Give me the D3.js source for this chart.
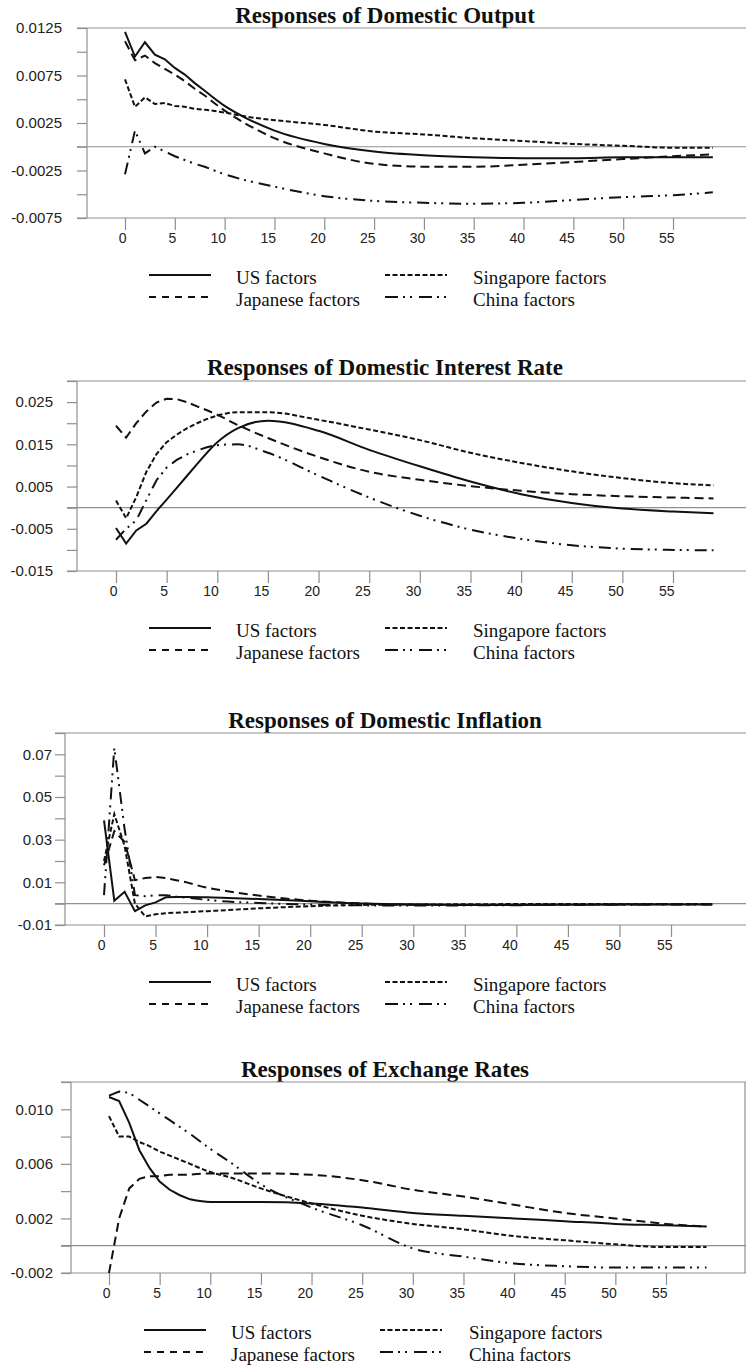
<!DOCTYPE html>
<html>
<head>
<meta charset="utf-8">
<script src="https://cdn.jsdelivr.net/npm/d3@7"></script>
<style>
  body { margin: 0; background: #fff; }
  svg { display: block; }
  .title { font: bold 23px "Liberation Serif", "Times New Roman", serif; fill: #111; }
  .legend__text { font: 19px "Liberation Serif", "Times New Roman", serif; fill: #111; }
  .y-axis text { font: 15px "Liberation Sans", Arial, sans-serif; fill: #222; }
  .x-axis text { font: 14px "Liberation Sans", Arial, sans-serif; fill: #222; }
  .frame { stroke: #8f8f8f; stroke-width: 1.2; fill: none; }
  .series { fill: none; stroke: #111; stroke-width: 2; }
</style>
</head>
<body>
<script>
const periods = [0, 1, 2, 3, 4, 5, 6, 7, 8, 10, 12, 15, 20, 25, 30, 35, 40, 45, 50, 55, 59];

const seriesNames = ["US factors", "Japanese factors", "Singapore factors", "China factors"];
const titles = [
  "Responses of Domestic Output",
  "Responses of Domestic Interest Rate",
  "Responses of Domestic Inflation",
  "Responses of Exchange Rates"
];
const xTicks = [0, 5, 10, 15, 20, 25, 30, 35, 40, 45, 50, 55];

// domestic output
const outputUS = [0.0121, 0.0095, 0.0110, 0.0097, 0.0092, 0.0083, 0.0076, 0.0067, 0.0059, 0.0043, 0.0031, 0.0017, 0.0003, -0.0005, -0.0009, -0.0011, -0.0012, -0.0012, -0.0011, -0.0011, -0.0011];
const outputJP = [0.0111, 0.0091, 0.0096, 0.0088, 0.0082, 0.0076, 0.0069, 0.0061, 0.0054, 0.0038, 0.0025, 0.0009, -0.0007, -0.0018, -0.0021, -0.0021, -0.0019, -0.0016, -0.0013, -0.0010, -0.0008];
const outputSG = [0.0071, 0.0042, 0.0052, 0.0045, 0.0046, 0.0043, 0.0042, 0.0040, 0.0039, 0.0036, 0.0032, 0.0028, 0.0023, 0.0016, 0.0013, 0.0009, 0.0006, 0.0003, 0.0001, -0.0001, -0.0001];
const outputCN = [-0.0029, 0.0017, -0.0007, 0.0000, -0.0005, -0.0010, -0.0014, -0.0018, -0.0021, -0.0029, -0.0035, -0.0042, -0.0052, -0.0057, -0.0059, -0.0060, -0.0059, -0.0056, -0.0053, -0.0051, -0.0048];
const outputTicks = [-0.0075, -0.005, -0.0025, 0, 0.0025, 0.005, 0.0075, 0.01, 0.0125];
const outputLabels = ["0.0125", "0.0075", "0.0025", "-0.0025", "-0.0075"];

// domestic interest rate
const rateUS = [-0.0048, -0.0085, -0.0054, -0.0038, -0.0008, 0.0019, 0.0047, 0.0075, 0.0103, 0.0155, 0.0188, 0.0206, 0.0182, 0.0137, 0.0098, 0.0062, 0.0032, 0.0011, -0.0002, -0.0009, -0.0013];
const rateJP = [0.0194, 0.0166, 0.0200, 0.0228, 0.0249, 0.0258, 0.0257, 0.0250, 0.0240, 0.0220, 0.0196, 0.0165, 0.0120, 0.0085, 0.0066, 0.0051, 0.0040, 0.0032, 0.0027, 0.0024, 0.0022];
const rateSG = [0.0017, -0.0025, 0.0025, 0.0085, 0.0127, 0.0155, 0.0173, 0.0188, 0.0200, 0.0218, 0.0226, 0.0226, 0.0208, 0.0185, 0.0160, 0.0130, 0.0106, 0.0086, 0.0070, 0.0058, 0.0053];
const rateCN = [-0.0076, -0.0050, -0.0030, 0.0018, 0.0065, 0.0095, 0.0113, 0.0126, 0.0135, 0.0148, 0.0150, 0.0130, 0.0076, 0.0024, -0.0019, -0.0052, -0.0074, -0.0089, -0.0097, -0.0100, -0.0101];
const rateTicks = [-0.015, -0.01, -0.005, 0, 0.005, 0.01, 0.015, 0.02, 0.025, 0.03];
const rateLabels = ["0.025", "0.015", "0.005", "-0.005", "-0.015"];

// domestic inflation
const inflUS = [0.039, 0.0014, 0.0056, -0.0035, -0.0008, 0.0006, 0.0030, 0.0031, 0.0031, 0.0030, 0.0027, 0.0022, 0.0011, 0.0001, -0.0004, -0.0006, -0.0006, -0.0005, -0.0004, -0.0004, -0.0004];
const inflJP = [0.018, 0.034, 0.029, 0.011, 0.012, 0.0125, 0.012, 0.011, 0.010, 0.0075, 0.0058, 0.0038, 0.0014, 0.0001, -0.0005, -0.0006, -0.0006, -0.0005, -0.0004, -0.0003, -0.0003];
const inflSG = [0.020, 0.042, 0.027, 0.000, -0.0060, -0.0050, -0.0045, -0.0042, -0.0040, -0.0035, -0.0030, -0.0022, -0.0012, -0.0006, -0.0004, -0.0003, -0.0002, -0.0002, -0.0001, -0.0001, -0.0001];
const inflCN = [0.004, 0.073, 0.035, 0.004, 0.0035, 0.0040, 0.0040, 0.0033, 0.0028, 0.0018, 0.0010, 0.0003, -0.0004, -0.0008, -0.0009, -0.0008, -0.0007, -0.0006, -0.0005, -0.0004, -0.0004];
const inflTicks = [-0.01, 0, 0.01, 0.02, 0.03, 0.04, 0.05, 0.06, 0.07, 0.08];
const inflLabels = ["0.07", "0.05", "0.03", "0.01", "-0.01"];

// exchange rates
const fxUS = [0.0109, 0.0106, 0.0090, 0.0070, 0.0057, 0.0047, 0.0041, 0.0037, 0.0034, 0.0032, 0.0032, 0.0032, 0.0031, 0.0028, 0.0024, 0.0022, 0.0020, 0.0018, 0.0016, 0.0015, 0.0014];
const fxJP = [-0.0020, 0.0020, 0.0042, 0.0049, 0.0051, 0.0051, 0.0052, 0.0052, 0.0052, 0.0053, 0.0053, 0.0053, 0.0052, 0.0048, 0.0041, 0.0036, 0.0030, 0.0024, 0.0020, 0.0016, 0.0014];
const fxSG = [0.0095, 0.0080, 0.0080, 0.0076, 0.0073, 0.0069, 0.0066, 0.0063, 0.0060, 0.0054, 0.0050, 0.0042, 0.0031, 0.0022, 0.0016, 0.0012, 0.0007, 0.0004, 0.0001, -0.0001, -0.0001];
const fxCN = [0.0110, 0.0113, 0.0112, 0.0107, 0.0102, 0.0097, 0.0092, 0.0087, 0.0082, 0.0071, 0.0061, 0.0045, 0.0028, 0.0015, -0.0002, -0.0008, -0.0013, -0.0015, -0.0016, -0.0016, -0.0016];
const fxTicks = [-0.002, 0, 0.002, 0.004, 0.006, 0.008, 0.01, 0.012];
const fxLabels = ["0.010", "0.006", "0.002", "-0.002"];

// line styles: US solid, Japan long dash, Singapore short dash, China dash-dot-dot
const plotDash = [null, "9,5", "5,2.5", "12,5,2,5,2,6"];
const legendDash = [null, "7,6", "5,2.5", "13,5,2,5,2,7"];

// where each panel sits on the page
const layout = [
  { top: 28, bottom: 218, axisX: 87, x0: 125, x55: 673, titleY: 23, yPad: 15, legendX: [149, 236, 385, 473], box: false },
  { top: 381, bottom: 571, axisX: 77, x0: 116, x55: 673, titleY: 375, yPad: 14, legendX: [149, 236, 385, 473], box: false },
  { top: 733, bottom: 925, axisX: 65, x0: 104, x55: 671, titleY: 728, yPad: 3, legendX: [149, 236, 385, 473], box: false },
  { top: 1082, bottom: 1273, axisX: 71, x0: 109, x55: 666, titleY: 1077, yPad: 8, legendX: [144, 231, 380, 469], box: true }
];

const panels = [
  { series: [outputUS, outputJP, outputSG, outputCN], ticks: outputTicks, labels: outputLabels },
  { series: [rateUS, rateJP, rateSG, rateCN], ticks: rateTicks, labels: rateLabels },
  { series: [inflUS, inflJP, inflSG, inflCN], ticks: inflTicks, labels: inflLabels },
  { series: [fxUS, fxJP, fxSG, fxCN], ticks: fxTicks, labels: fxLabels }
];

const W = 746, H = 1366;
// first periods are joined by straight segments (as in the source), later ones smoothly
const splitAt = periods.indexOf(8);

const svg = d3.select("body")
  .append("svg")
  .attr("width", W)
  .attr("height", H);

panels.forEach((p, i) => {
  const L = layout[i];
  const g = svg.append("g").attr("class", "panel");

  const x = d3.scaleLinear().domain([0, 55]).range([L.x0, L.x55]);
  const y = d3.scaleLinear().domain(d3.extent(p.ticks)).range([L.bottom, L.top]);
  const tickLeft = L.axisX - 10;

  // title
  g.append("text")
    .attr("class", "title")
    .attr("x", 385)
    .attr("y", L.titleY)
    .attr("text-anchor", "middle")
    .text(titles[i]);

  // y axis (ticks every step, labels on every other one)
  const yAxis = d3.axisLeft(y)
    .tickValues(p.ticks)
    .tickSize(10)
    .tickPadding(L.yPad)
    .tickFormat(d => {
      const s = p.labels.find(l => Math.abs(+l - d) < 1e-9);
      return s === undefined ? "" : s;
    });

  const yG = g.append("g")
    .attr("class", "y-axis")
    .attr("transform", `translate(${L.axisX},0)`)
    .call(yAxis);
  yG.select(".domain").remove();
  yG.selectAll("line").attr("stroke", "#8f8f8f").attr("stroke-width", 1.2);

  // x axis
  const xAxis = d3.axisBottom(x)
    .tickValues(xTicks)
    .tickSize(12)
    .tickPadding(3);

  const xG = g.append("g")
    .attr("class", "x-axis")
    .attr("transform", `translate(0,${L.bottom})`)
    .call(xAxis);
  xG.select(".domain").remove();
  xG.selectAll("line").attr("stroke", "#8f8f8f").attr("stroke-width", 1.2);
  xG.selectAll("text").attr("text-anchor", "end").attr("x", 1);

  // frame: left axis, top, bottom, zero line
  g.append("line").attr("class", "frame")
    .attr("x1", L.axisX).attr("x2", L.axisX).attr("y1", L.top).attr("y2", L.bottom);
  [L.top, L.bottom, y(0)].forEach(yy => {
    g.append("line").attr("class", "frame")
      .attr("x1", tickLeft).attr("x2", W).attr("y1", yy).attr("y2", yy);
  });
  if (L.box) {
    g.append("line").attr("class", "frame")
      .attr("x1", W - 1).attr("x2", W - 1).attr("y1", L.top).attr("y2", L.bottom);
  }

  // responses
  const head = d3.line().curve(d3.curveLinear);
  const tail = d3.line().curve(d3.curveMonotoneX);
  const pathFor = vals => {
    const pts = vals.map((v, k) => [x(periods[k]), y(v)]);
    const a = head(pts.slice(0, splitAt + 1));
    const b = tail(pts.slice(splitAt)).replace(/^M[^C]*/, "");
    return a + b;
  };

  g.selectAll(".series")
    .data(p.series)
    .enter()
    .append("path")
    .attr("class", "series")
    .attr("d", d => pathFor(d))
    .attr("stroke-dasharray", (d, k) => plotDash[k]);

  // legend (2 x 2): US / Japan in the left column, Singapore / China in the right
  const legend = g.selectAll(".legend")
    .data(seriesNames)
    .enter()
    .append("g")
    .attr("class", "legend")
    .attr("transform", (d, k) => {
      const c = (k === 0 || k === 1) ? 0 : 1;
      const r = (k === 0 || k === 2) ? 0 : 1;
      return `translate(${L.legendX[c * 2]},${L.bottom + 57 + r * 22})`;
    });

  legend.append("line")
    .attr("x1", 0)
    .attr("x2", 62)
    .attr("stroke", "#111")
    .attr("stroke-width", 2.2)
    .attr("stroke-dasharray", (d, k) => legendDash[k]);

  legend.append("text")
    .attr("class", "legend__text")
    .attr("x", (d, k) => (k < 2) ? L.legendX[1] - L.legendX[0] : L.legendX[3] - L.legendX[2])
    .attr("y", 9)
    .text(d => d);
});
</script>
</body>
</html>
